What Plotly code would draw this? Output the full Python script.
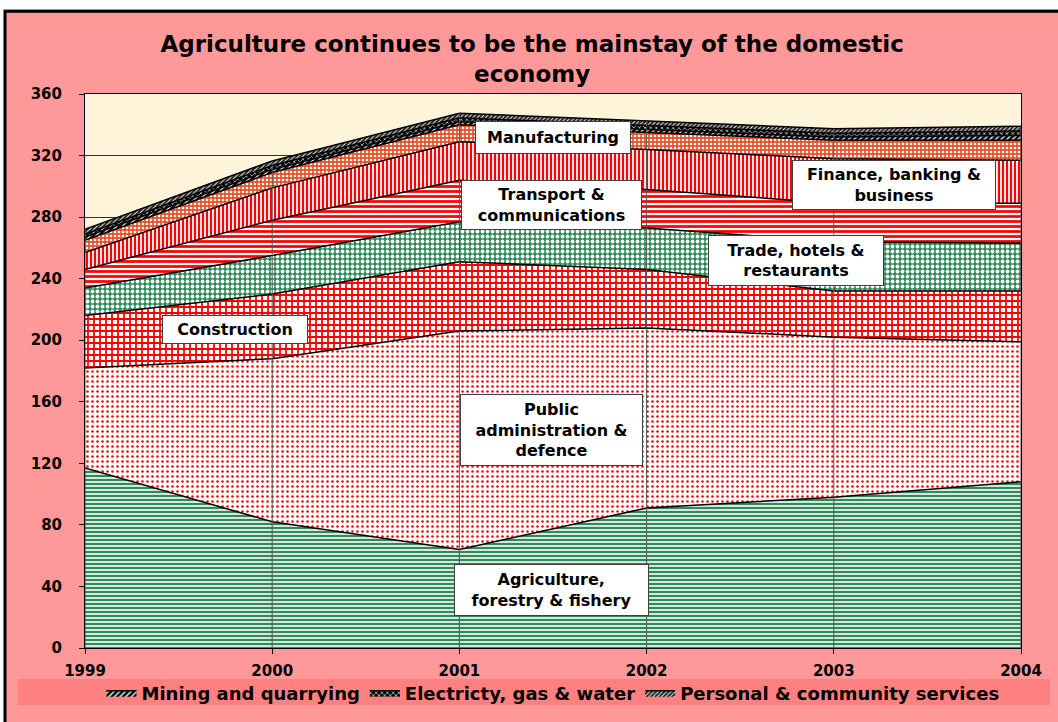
import plotly.graph_objects as go

years = [1999, 2000, 2001, 2002, 2003, 2004]
agriculture = [117, 82, 64, 91, 98, 108]
public_admin = [65, 106, 142, 117, 104, 91]
construction = [34, 42, 45, 38, 30, 33]
trade = [18, 25, 26, 27, 32, 31]
transport = [12, 23, 27, 25, 25, 26]
finance = [11, 21, 25, 26, 29, 28]
manufacturing = [8, 10, 11, 11, 12, 13]
mining = [2, 2, 2, 2, 2, 3]
electricity = [2, 2.5, 2.5, 2.5, 2.5, 3]
personal = [3, 3, 3, 3, 3, 3]

y_ticks = [0, 40, 80, 120, 160, 200, 240, 280, 320, 360]

FONT = "DejaVu Sans, Arial, sans-serif"
GREEN = "#2E8B57"
RED = "#FF0000"

series = [
    ("Agriculture, forestry & fishery", agriculture, dict(shape="-", fgcolor=GREEN, bgcolor="white", size=4, solidity=0.6), False),
    ("Public administration & defence", public_admin, dict(shape=".", fgcolor=RED, bgcolor="white", size=5, solidity=0.2), False),
    ("Construction", construction, dict(shape="+", fgcolor=RED, bgcolor="white", size=6, solidity=0.5), False),
    ("Trade, hotels & restaurants", trade, dict(shape=".", fgcolor="white", bgcolor=GREEN, size=5, solidity=0.45), False),
    ("Transport & communications", transport, dict(shape="-", fgcolor=RED, bgcolor="white", size=5, solidity=0.55), False),
    ("Finance, banking & business", finance, dict(shape="|", fgcolor=RED, bgcolor="white", size=4, solidity=0.55), False),
    ("Manufacturing", manufacturing, dict(shape=".", fgcolor="white", bgcolor="#E8502A", size=4, solidity=0.35), False),
    ("Mining and quarrying", mining, dict(shape="/", fgcolor="white", bgcolor="black", size=4, solidity=0.35), True),
    ("Electricty, gas & water", electricity, dict(shape="x", fgcolor="white", bgcolor="black", size=4, solidity=0.3), True),
    ("Personal & community services", personal, dict(shape="/", fgcolor="white", bgcolor="#222222", size=3, solidity=0.3), True),
]

fig = go.Figure()
for name, vals, pat, show in series:
    fig.add_trace(go.Scatter(
        x=years, y=vals, name=name, mode="lines", stackgroup="one",
        line=dict(color="black", width=1.5),
        fillpattern=dict(fillmode="replace", **pat),
        showlegend=show, hoverinfo="x+y+name",
    ))

# drop lines from the stacked total to the axis
totals = [sum(s[1][i] for s in series) for i in range(len(years))]
dx, dy = [], []
for yr, t in zip(years, totals):
    dx += [yr, yr, None]
    dy += [0, t, None]
fig.add_trace(go.Scatter(x=dx, y=dy, mode="lines", line=dict(color="#555555", width=1),
                         showlegend=False, hoverinfo="skip"))

# label text, x (year), y (value), box width, box height
labels = [
    ("Manufacturing", 2001.5, 332, 154, 31),
    ("Transport &<br>communications", 2001.49, 288, 179, 48),
    ("Finance, banking &<br>business", 2003.32, 301, 202, 48),
    ("Trade, hotels &<br>restaurants", 2002.80, 251.5, 174, 49),
    ("Construction", 1999.8, 207, 144, 27),
    ("Public<br>administration &<br>defence", 2001.49, 141.5, 181, 70),
    ("Agriculture,<br>forestry & fishery", 2001.49, 37.5, 193, 50),
]
for text, lx, ly, w, h in labels:
    fig.add_annotation(x=lx, y=ly, text=text, showarrow=False, width=w, height=h,
                       font=dict(family=FONT, size=16, color="black", weight="bold"),
                       bgcolor="white", bordercolor="#404040", borderwidth=1, borderpad=0)

# white page strips, outer chart frame and legend band (all outside the plot area)
PX0, PW, PY0, PH = 85, 936, 649, 555
def px(v):
    return (v - PX0) / PW
def py(v):
    return (PY0 - v) / PH

fig.add_shape(type="rect", xref="paper", yref="paper", x0=px(-5), x1=px(1070), y0=py(9), y1=py(-5),
              fillcolor="white", line=dict(width=0), layer="below")
fig.add_shape(type="rect", xref="paper", yref="paper", x0=px(-5), x1=px(4), y0=py(730), y1=py(-5),
              fillcolor="white", line=dict(width=0), layer="below")
fig.add_shape(type="rect", xref="paper", yref="paper", x0=px(5), x1=px(1064), y0=py(728), y1=py(11),
              fillcolor="rgba(0,0,0,0)", line=dict(color="black", width=3), layer="below")
fig.add_shape(type="rect", xref="paper", yref="paper", x0=px(18), x1=px(1050), y0=py(706), y1=py(680),
              fillcolor="#FF8080", line=dict(width=0), layer="below")

fig.update_layout(
    width=1058, height=722,
    margin=dict(l=85, r=37, t=94, b=73),
    paper_bgcolor="#FF9999",
    plot_bgcolor="#FDF4DA",
    font=dict(family=FONT, color="black"),
    title=dict(text="Agriculture continues to be the mainstay of the domestic<br>economy",
               x=0.503, xref="container", xanchor="center",
               y=1 - 52 / 722, yanchor="top",
               font=dict(family=FONT, size=23, weight="bold", color="black")),
    showlegend=True,
    legend=dict(orientation="h", x=0.5, xanchor="center", y=py(693), yanchor="middle",
                bgcolor="rgba(0,0,0,0)", traceorder="normal",
                font=dict(family=FONT, size=18, weight="bold", color="black"),
                itemwidth=30, tracegroupgap=0),
)
fig.update_xaxes(range=[1999, 2004], tickvals=years, ticktext=[str(y) for y in years],
                 showgrid=False, zeroline=False,
                 showline=True, linecolor="black", linewidth=1, mirror=True,
                 ticks="outside", ticklen=5, tickcolor="black", ticklabelstandoff=4,
                 tickfont=dict(family=FONT, size=15, weight="bold", color="black"))
fig.update_yaxes(range=[0, 360], tickvals=y_ticks,
                 showgrid=True, gridcolor="#333333", gridwidth=1, zeroline=False,
                 showline=True, linecolor="black", linewidth=1, mirror=True,
                 ticks="outside", ticklen=5, tickcolor="black", ticklabelstandoff=14,
                 tickfont=dict(family=FONT, size=15, weight="bold", color="black"))

fig.write_html("out.html", config={"displayModeBar": False},
               post_script="document.body.style.margin='0';document.body.style.overflow='hidden';")
